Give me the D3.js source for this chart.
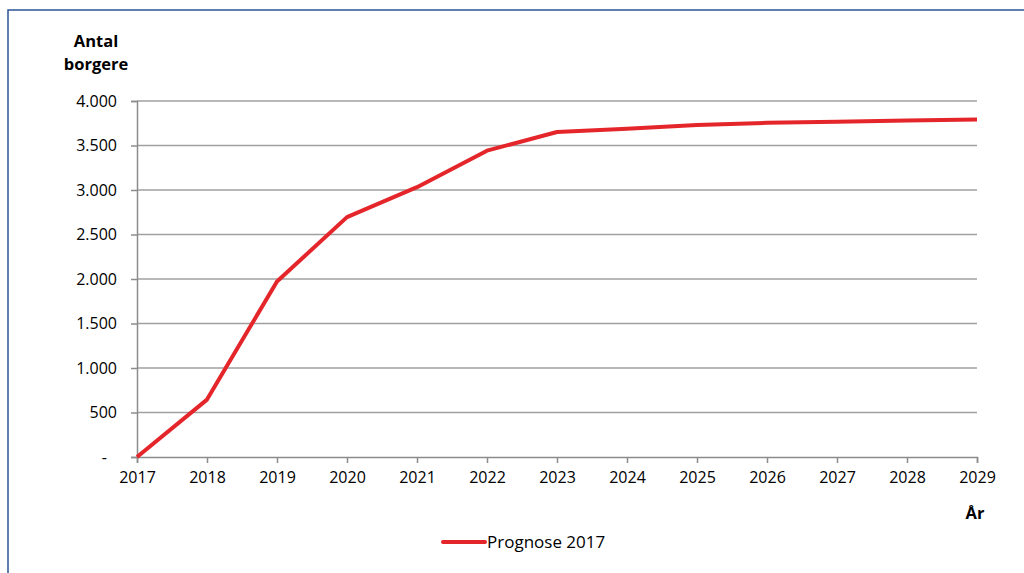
<!DOCTYPE html>
<html>
<head>
<meta charset="utf-8">
<script src="https://cdn.jsdelivr.net/npm/d3@7"></script>
<style>
  html, body { margin: 0; padding: 0; background: #fff; }
  svg { display: block; }
  text { font-family: "Open Sans", "Liberation Sans", sans-serif; fill: #000; }
</style>
</head>
<body>
<svg id="chart" width="1024" height="573"></svg>
<script>
// Forecast of the number of citizens per year
const years = [2017, 2018, 2019, 2020, 2021, 2022, 2023, 2024, 2025, 2026, 2027, 2028, 2029];
const prognose2017 = [0, 645, 1972, 2695, 3032, 3442, 3652, 3688, 3730, 3755, 3768, 3781, 3793];
const yTicks = [0, 500, 1000, 1500, 2000, 2500, 3000, 3500, 4000];
const seriesName = "Prognose 2017";

const svg = d3.select("#chart");
const margin = { left: 137, right: 977, top: 101, bottom: 457 };
const fontSize = 16;

// Outer frame (only its top and left edges fall inside the view)
svg.append("path")
  .attr("d", "M8,573 L8,10 L1024,10")
  .attr("fill", "none")
  .attr("stroke", "#2a5396")
  .attr("stroke-width", 1.5);

const x = d3.scaleLinear().domain([2017, 2029]).range([margin.left, margin.right]);
const y = d3.scaleLinear().domain([0, 4000]).range([margin.bottom, margin.top]);

const fmt = v => v === 0 ? "-" : d3.format(",")(v).replace(/,/g, ".");

// Horizontal gridlines
svg.append("g")
  .selectAll("line")
  .data(yTicks.filter(d => d > 0))
  .join("line")
  .attr("x1", margin.left).attr("x2", margin.right)
  .attr("y1", d => y(d)).attr("y2", d => y(d))
  .attr("stroke", "#a0a0a0")
  .attr("stroke-width", 1.5);

// Y axis
const yAxis = svg.append("g")
  .attr("transform", `translate(${margin.left},0)`)
  .call(d3.axisLeft(y).tickValues(yTicks).tickSize(6).tickPadding(8).tickFormat(fmt));
yAxis.select(".domain").attr("stroke", "#8c8c8c").attr("stroke-width", 1.5);
yAxis.selectAll(".tick line").attr("stroke", "#8c8c8c").attr("stroke-width", 1.5);
yAxis.selectAll(".tick text")
  .attr("font-size", fontSize)
  .attr("font-family", "'Open Sans', 'Liberation Sans', sans-serif")
  .attr("fill", "#000")
  .attr("dx", d => d === 0 ? -16 : -6);

// X axis
const xAxis = svg.append("g")
  .attr("transform", `translate(0,${margin.bottom})`)
  .call(d3.axisBottom(x).tickValues(years).tickSize(6).tickPadding(9).tickFormat(d3.format("d")));
xAxis.select(".domain").attr("stroke", "#8c8c8c").attr("stroke-width", 1.5);
xAxis.selectAll(".tick line").attr("stroke", "#8c8c8c").attr("stroke-width", 1.5);
xAxis.selectAll(".tick text")
  .attr("font-size", fontSize)
  .attr("font-family", "'Open Sans', 'Liberation Sans', sans-serif")
  .attr("fill", "#000");

// Axis titles
const yTitle = svg.append("text")
  .attr("text-anchor", "middle")
  .attr("font-size", 16.5)
  .attr("font-weight", "bold");
yTitle.append("tspan").attr("x", 96).attr("y", 47).text("Antal");
yTitle.append("tspan").attr("x", 96).attr("y", 70).text("borgere");

svg.append("text")
  .attr("x", 975).attr("y", 519)
  .attr("text-anchor", "middle")
  .attr("font-size", 16.5)
  .attr("font-weight", "bold")
  .text("År");

// Forecast line
const line = d3.line()
  .x((d, i) => x(years[i]))
  .y(d => y(d));

svg.append("path")
  .datum(prognose2017)
  .attr("d", line)
  .attr("fill", "none")
  .attr("stroke", "#e4262b")
  .attr("stroke-width", 4)
  .attr("stroke-linejoin", "round");

// Legend
const legend = svg.append("g").attr("transform", "translate(443,542)");
legend.append("line")
  .attr("x1", 0).attr("x2", 42).attr("y1", 0).attr("y2", 0)
  .attr("stroke", "#e4262b").attr("stroke-width", 4).attr("stroke-linecap", "round");
legend.append("text")
  .attr("x", 44).attr("y", 6)
  .attr("font-size", 17)
  .text(seriesName);
</script>
</body>
</html>
